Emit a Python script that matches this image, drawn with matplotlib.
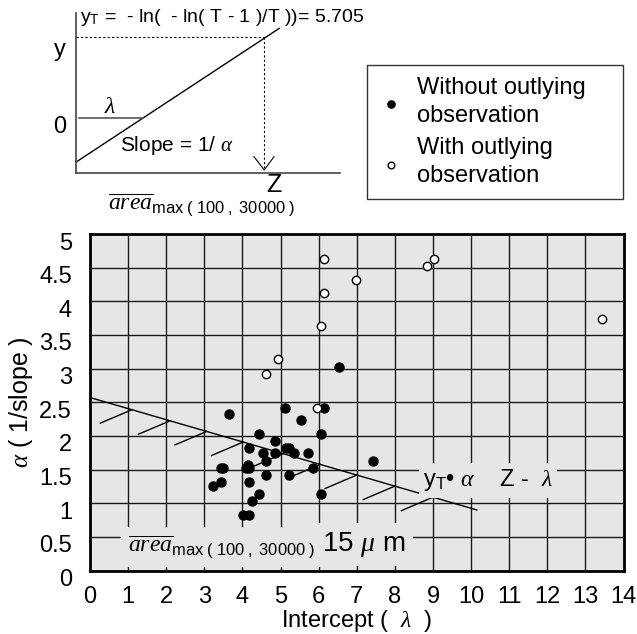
import matplotlib
matplotlib.use("Agg")
import matplotlib.pyplot as plt
import matplotlib.transforms as mtransforms

plt.rcParams['font.family'] = ['Liberation Sans', 'DejaVu Sans']
plt.rcParams['mathtext.fontset'] = 'custom'
plt.rcParams['mathtext.rm'] = 'Liberation Sans'
plt.rcParams['mathtext.sf'] = 'Liberation Sans'
plt.rcParams['mathtext.it'] = 'Liberation Serif:italic'

# observations (intercept lambda, alpha)
x_without = [3.65, 5.13, 6.13, 5.54, 4.44, 6.05, 4.86, 4.17, 5.14, 5.22, 4.53, 4.86,
             5.36, 5.72, 4.63, 5.86, 3.43, 3.50, 4.09, 4.18, 4.15, 4.63, 5.22, 3.43,
             3.24, 4.17, 4.44, 6.05, 4.25, 4.02, 4.17, 6.54, 7.42]
y_without = [2.32, 2.42, 2.42, 2.24, 2.03, 2.03, 1.92, 1.82, 1.82, 1.82, 1.75, 1.75,
             1.75, 1.75, 1.63, 1.53, 1.53, 1.53, 1.53, 1.53, 1.57, 1.42, 1.42, 1.32,
             1.26, 1.32, 1.13, 1.13, 1.03, 0.82, 0.82, 3.03, 1.63]
x_with = [6.13, 9.03, 8.85, 6.97, 6.13, 6.05, 13.43, 4.94, 4.62, 5.95]
y_with = [4.63, 4.63, 4.53, 4.32, 4.13, 3.63, 3.74, 3.14, 2.92, 2.42]

# constraint line y_T*alpha = Z - lambda and its hatching
bound_x = [0.0, 10.15]
bound_y = [2.57, 0.90]
hatch_x = [1.1, 2.1, 3.06, 4.02, 5.07, 6.04, 7.0, 8.0, 9.0]
hatch_dx, hatch_dy = 0.83, 0.2

xticks = list(range(15))
yticks = [0, 0.5, 1, 1.5, 2, 2.5, 3, 3.5, 4, 4.5, 5]
ytick_labels = ['0', '0.5', '1', '1.5', '2', '2.5', '3', '3.5', '4', '4.5', '5']

W, H = 637, 634
BG = '#e6e6e6'
fig = plt.figure(figsize=(W / 100, H / 100), dpi=100)

# ---- main chart ----
ax = fig.add_axes([90 / W, 1 - 570.5 / H, 533.5 / W, 336.5 / H])
ax.set_facecolor(BG)
ax.set_xlim(0, 14)
ax.set_ylim(0, 5)
ax.set_xticks(xticks)
ax.set_yticks(yticks)
ax.set_yticklabels(ytick_labels)
ax.tick_params(length=0, labelsize=17)
ax.tick_params(axis='x', pad=11)
ax.tick_params(axis='y', pad=13)
ax.grid(True, color='#1a1a1a', linewidth=1.0)
ax.set_axisbelow(True)
for s in ax.spines.values():
    s.set_linewidth(2)
ax.set_xlabel(r'Intercept (  $\lambda$  )', fontsize=17, labelpad=0)
ax.set_ylabel(r'$\alpha$ ( 1/slope )', fontsize=18, labelpad=3)

# y tick labels sit a little below their grid lines in the original
shift = mtransforms.ScaledTranslation(0, -7 / 100, fig.dpi_scale_trans)
for lab in ax.get_yticklabels():
    lab.set_transform(lab.get_transform() + shift)

def boundary(x):
    return bound_y[0] + (bound_y[1] - bound_y[0]) / (bound_x[1] - bound_x[0]) * (x - bound_x[0])

ax.plot(bound_x, bound_y, color='black', linewidth=1, zorder=3)
for hx in hatch_x:
    hy = boundary(hx)
    ax.plot([hx - hatch_dx, hx], [hy - hatch_dy, hy], color='black', linewidth=1, zorder=3)

pts1 = ax.scatter(x_without, y_without, s=42, color='black', zorder=5)
pts2 = ax.scatter(x_with, y_with, s=36, facecolor='white', edgecolor='black',
                  linewidth=1, zorder=5)

ax.text(8.75, 1.34, r'y$_\mathrm{T}$• $\alpha$    Z -  $\lambda$', fontsize=17,
        va='center', ha='left', zorder=4,
        bbox=dict(facecolor=BG, edgecolor='none', pad=3))
ax.text(1.0, 0.35, r'$\overline{area}_{\mathrm{max\ (\ 100\ ,\ 30000\ )}}$',
        fontsize=17, va='center', ha='left', zorder=4,
        bbox=dict(facecolor=BG, edgecolor='none', pad=5))
ax.text(6.1, 0.38, r'15 $\mu$ m', fontsize=20, va='center', ha='left', zorder=4,
        bbox=dict(facecolor=BG, edgecolor='none', pad=5))

# ---- schematic ----
sx = fig.add_axes([76 / W, 1 - 173 / H, 264 / W, 160 / H])
sx.set_xlim(0, 1)
sx.set_ylim(0, 1)
sx.set_xticks([])
sx.set_yticks([])
sx.patch.set_visible(False)
for k in ['top', 'right']:
    sx.spines[k].set_visible(False)
for k in ['left', 'bottom']:
    sx.spines[k].set_color('#444444')
    sx.spines[k].set_linewidth(1.2)
sx.plot([0.0, 0.77], [0.068, 0.904], color='black', linewidth=1, clip_on=False)
sx.plot([0.0, 0.712], [0.848, 0.848], color='black', linewidth=0.8, linestyle=(0, (2, 2)))
sx.plot([0.712, 0.712], [0.848, 0.03], color='black', linewidth=0.8, linestyle=(0, (2, 2)))
sx.plot([0.674, 0.713, 0.75], [0.102, 0.019, 0.102], color='black', linewidth=0.8)
sx.plot([0.0125, 0.255], [0.342, 0.342], color='#555555', linewidth=1.2)
sx.text(0.015, 0.97, r'y$_\mathrm{T}$ =  - ln(  - ln( T - 1 )/T ))= 5.705', fontsize=14,
        ha='left', va='center')
sx.text(-0.06, 0.77, 'y', fontsize=17, ha='center', va='center')
sx.text(-0.06, 0.29, '0', fontsize=17, ha='center', va='center')
sx.text(0.13, 0.41, r'$\lambda$', fontsize=17, ha='center', va='center')
sx.text(0.167, 0.175, r'Slope = 1/ $\alpha$', fontsize=15, ha='left', va='center')
sx.text(0.75, -0.075, 'Z', fontsize=18, ha='center', va='center', clip_on=False)
sx.text(0.12, -0.2, r'$\overline{area}_{\mathrm{max\ (\ 100\ ,\ 30000\ )}}$', fontsize=17,
        ha='left', va='center')

# ---- legend ----
leg = fig.legend([pts1, pts2], ['Without outlying\nobservation', 'With outlying\nobservation'],
                 loc='upper left', bbox_to_anchor=(367 / W, 1 - 65 / H - 0.01, 256 / W, 0.01),
                 mode='expand', borderaxespad=0, fontsize=17, frameon=True, fancybox=False,
                 edgecolor='black', handletextpad=0.6, labelspacing=0.45,
                 borderpad=0.5, markerscale=0.8, handlelength=1.0)
leg.get_frame().set_linewidth(1)
for t in leg.get_texts():
    t.set_linespacing(1.35)

fig.savefig('out.png', dpi=100)
